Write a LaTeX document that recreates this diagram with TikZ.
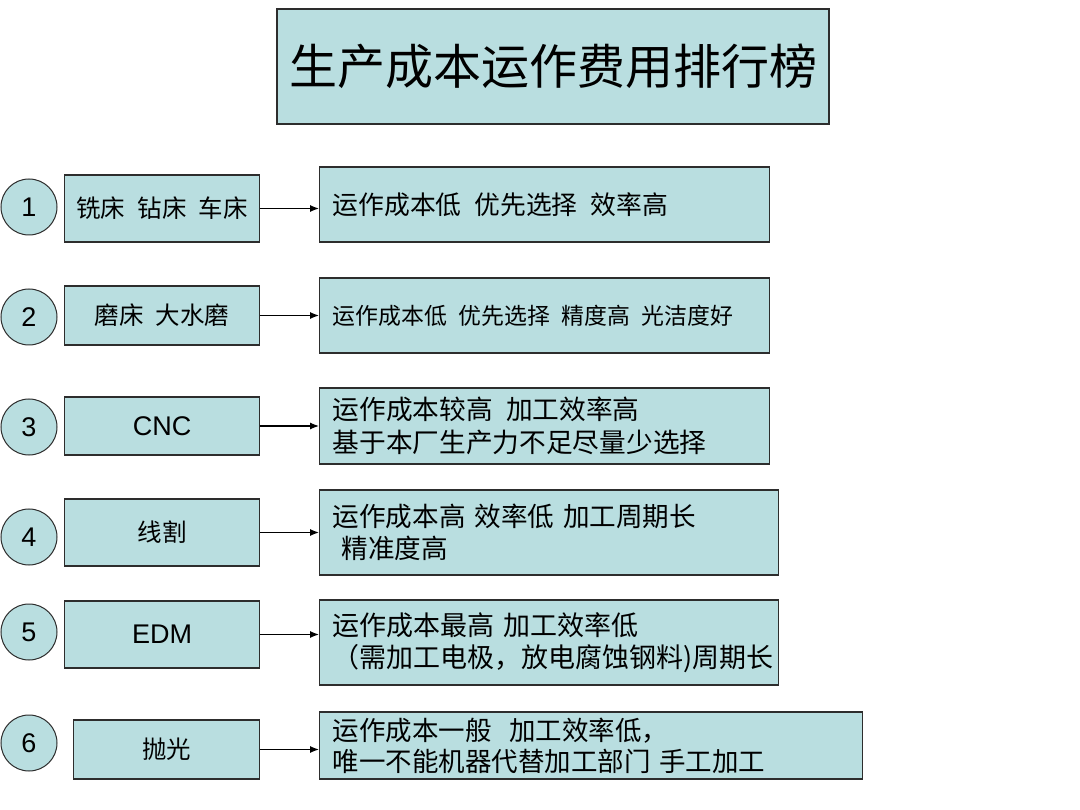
\documentclass[tikz,border=0pt]{standalone}
\usepackage{fontspec}
\setmainfont{Liberation Sans}
\newfontfamily\cjk{Noto Sans CJK SC}
\usetikzlibrary{arrows.meta}
\definecolor{boxblue}{RGB}{185,222,224}
\definecolor{edgegray}{RGB}{45,45,45}
\tikzset{
  numcirc/.style={circle,draw=edgegray,fill=boxblue,line width=1pt,minimum size=56pt,inner sep=0pt,font=\fontsize{27}{27}\selectfont},
  machbox/.style={draw=edgegray,fill=boxblue,line width=1.2pt,inner sep=0pt,anchor=west},
  notebox/.style={draw=edgegray,fill=boxblue,line width=1.2pt,anchor=west,inner xsep=13pt,inner ysep=0pt,align=left},
  link/.style={-{Latex[length=9pt,width=7pt]},line width=1.2pt}
}
\begin{document}
\begin{tikzpicture}[x=1pt,y=1pt,yscale=-1]
  \useasboundingbox[fill=white] (0,0) rectangle (1080,810);

  % Title
  \node[draw=edgegray,fill=boxblue,line width=1.2pt,minimum width=552pt,minimum height=115pt,font=\cjk\fontsize{48}{48}\selectfont] (title) at (553,66.5) {生产成本运作费用排行榜};

  % Row 1
  \node[numcirc] (n1) at (29,207) {1};
  \node[machbox,minimum width=195pt,minimum height=67pt,font=\cjk\fontsize{24.5}{24.5}\selectfont] (m1) at (64,208.5) {铣床\enspace 钻床\enspace 车床};
  \node[notebox,text width=424pt,minimum height=75pt,font=\cjk\fontsize{25.8}{30}\selectfont] (c1) at (319,204.5) {运作成本低\enspace 优先选择\enspace 效率高};
  \draw[link] (m1.east) -- (m1.east -| c1.west);

  % Row 2
  \node[numcirc] (n2) at (29,317) {2};
  \node[machbox,minimum width=195pt,minimum height=59pt,font=\cjk\fontsize{24.5}{24.5}\selectfont] (m2) at (64,315.5) {磨床\enspace 大水磨};
  \node[notebox,text width=424pt,minimum height=75pt,font=\cjk\fontsize{22.9}{26}\selectfont] (c2) at (319,315.5) {运作成本低\enspace 优先选择\enspace 精度高\enspace 光洁度好};
  \draw[link] (m2.east) -- (m2.east -| c2.west);

  % Row 3
  \node[numcirc] (n3) at (29,427) {3};
  \node[machbox,minimum width=195pt,minimum height=58pt,font=\fontsize{27}{27}\selectfont] (m3) at (64,426) {CNC};
  \node[notebox,text width=424pt,minimum height=76pt,font=\cjk\fontsize{26.7}{33}\selectfont] (c3) at (319,426) {运作成本较高\enspace 加工效率高\\基于本厂生产力不足尽量少选择};
  \draw[link] (m3.east) -- (m3.east -| c3.west);

  % Row 4
  \node[numcirc] (n4) at (29,537) {4};
  \node[machbox,minimum width=195pt,minimum height=67pt,font=\cjk\fontsize{24.5}{24.5}\selectfont] (m4) at (64,532.5) {线割};
  \node[notebox,text width=433pt,minimum height=85pt,font=\cjk\fontsize{26.6}{32}\selectfont] (c4) at (319,532.5) {运作成本高 效率低 加工周期长\\\ 精准度高};
  \draw[link] (m4.east) -- (m4.east -| c4.west);

  % Row 5
  \node[numcirc] (n5) at (29,632) {5};
  \node[machbox,minimum width=195pt,minimum height=67pt,font=\fontsize{27}{27}\selectfont] (m5) at (64,634.5) {EDM};
  \node[notebox,text width=433pt,minimum height=85pt,font=\cjk\fontsize{27}{32}\selectfont] (c5) at (319,642.5) {运作成本最高 加工效率低\\（需加工电极，放电腐蚀钢料)周期长};
  \draw[link] (m5.east) -- (m5.east -| c5.west);

  % Row 6
  \node[numcirc] (n6) at (29,743) {6};
  \node[machbox,minimum width=186pt,minimum height=59pt,font=\cjk\fontsize{24.5}{24.5}\selectfont] (m6) at (73,749.5) {抛光};
  \node[notebox,text width=517pt,minimum height=67pt,font=\cjk\fontsize{26.5}{31}\selectfont] (c6) at (319,745.5) {运作成本一般\ \ 加工效率低，\\唯一不能机器代替加工部门 手工加工};
  \draw[link] (m6.east) -- (m6.east -| c6.west);
\end{tikzpicture}
\end{document}
